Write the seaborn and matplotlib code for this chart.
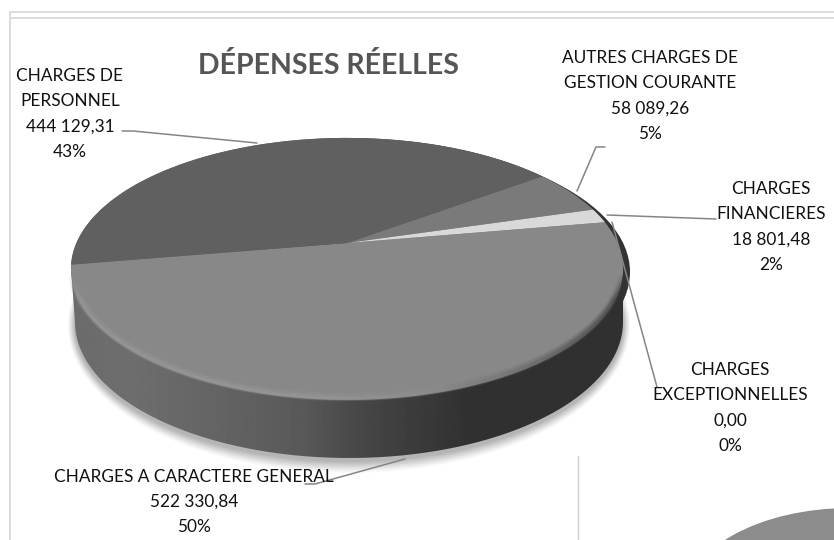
import numpy as np
import matplotlib
matplotlib.use("Agg")
import matplotlib.pyplot as plt
import seaborn as sns
from matplotlib.collections import LineCollection
from matplotlib.patches import Ellipse, PathPatch
from matplotlib.path import Path
from matplotlib.transforms import Transform

categories = ["CHARGES A CARACTERE GENERAL", "CHARGES DE\nPERSONNEL",
              "AUTRES CHARGES DE\nGESTION COURANTE", "CHARGES\nFINANCIERES",
              "CHARGES\nEXCEPTIONNELLES"]
values = [522330.84, 444129.31, 58089.26, 18801.48, 0.00]
percent_labels = ["50%", "43%", "5%", "2%", "0%"]
slice_colors = ["#888888", "#606060", "#7a7a7a", "#d9d9d9", "#b0b0b0"]
label_centers = [(194, 502), (70, 114), (650, 96), (771, 227), (730, 408)]
leaders = [
    [(305, 484), (315, 484), (405, 459)],
    [(122, 131), (133, 131), (257, 143)],
    [(605, 147), (596, 147), (577, 191)],
    [(607, 215), (716, 219)],
    [(612, 222), (657, 387)],
]
title = "DÉPENSES RÉELLES"

sns.set_theme(style="white")
plt.rcParams["font.family"] = ["Lato", "DejaVu Sans"]


class Perspective(Transform):
    """Tilts the unit pie: maps it to an ellipse with the apex above the ellipse's centre."""
    input_dims = output_dims = 2
    is_separable = False
    has_inverse = False

    def __init__(self, cx, cy, a, b, k):
        super().__init__()
        self.cx, self.cy, self.a, self.b, self.k = cx, cy, a, b, k

    def transform_non_affine(self, xy):
        xy = np.asarray(xy, dtype=float)
        w = 1 + self.k * xy[:, 1]
        return np.column_stack([self.cx + self.a * xy[:, 0] / w,
                                self.cy - self.b * xy[:, 1] / w])


H = Perspective(347, 243, 270.6, 125.9, 0.198)

fig = plt.figure(figsize=(8.34, 5.40), dpi=100, facecolor="white")
ax = fig.add_axes([0, 0, 1, 1])

# pie top face, through the library's own pie
wedges, _ = ax.pie(values, colors=sns.color_palette(slice_colors), startangle=9.8,
                   counterclock=False, radius=1, center=(0, 0),
                   wedgeprops=dict(linewidth=0))
for w in wedges:
    w.set_transform(H + ax.transData)
    w.set_clip_on(False)
    w.set_zorder(5)

# soft shadow under the drum
for grow, alpha in zip(np.linspace(12, 1, 10), np.linspace(0.03, 0.10, 10)):
    ax.add_patch(Ellipse((349, 325), 2 * 274 + grow * 1.2, 2 * 136 + 2 * grow,
                         fc="#707070", ec="none", alpha=alpha, zorder=1))

# right bulge under the rim
ax.add_patch(Ellipse((352, 272), 2 * 278, 2 * 131, fc="#333333", ec="none", zorder=2))

# side wall with horizontal gradient
t = np.linspace(0, 2 * np.pi, 721)
circle = np.column_stack([np.cos(t), np.sin(t)])
top_outline = H.transform_non_affine(circle)
upper = top_outline[top_outline[:, 1] < 269]
upper = upper[np.argsort(-upper[:, 0])]
tb = np.linspace(np.pi, 2 * np.pi, 361)
lower = np.column_stack([349 + 274 * np.cos(tb), 322 - 136 * np.sin(tb)])
wall = PathPatch(Path(np.vstack([lower, upper, lower[:1]])), fc="none", ec="none",
                 transform=ax.transData)
ax.add_patch(wall)
stops_x = [70, 130, 220, 300, 360, 420, 470, 630]
stops_v = [0.42, 0.43, 0.39, 0.35, 0.28, 0.23, 0.19, 0.19]
grad = np.interp(np.arange(70, 631), stops_x, stops_v)[None, :]
im = ax.imshow(grad, cmap="gray", vmin=0, vmax=1, extent=(70, 630, 470, 130),
               aspect="auto", zorder=3)
im.set_clip_path(wall)

# soft bevel just inside the front edge of the top face
ring = top_outline[(top_outline[:, 1] > 275)]
ring = ring[np.argsort(ring[:, 0])]
band_x = [70, 300, 420, 500, 570, 625]
band_col = [0.60, 0.60, 0.56, 0.46, 0.34, 0.25]
for lw, alpha, inset in [(6.0, 0.22, 3.0), (4.0, 0.35, 2.5), (2.0, 0.55, 2.0)]:
    pts = ring + [0, -inset]
    segs = np.stack([pts[:-1], pts[1:]], axis=1)
    xs = segs[:, 0, 0]
    shade = np.interp(xs, band_x, band_col)
    taper = np.clip((segs[:, 0, 1] - 275) / 25, 0, 1) * alpha
    ax.add_collection(LineCollection(segs, colors=np.column_stack([shade, shade, shade, taper]),
                                     linewidths=lw, zorder=6, capstyle="butt"))

# frame lines of the screenshot
for xy in ([(10, 12), (834, 12)], [(10, 18), (834, 18)], [(10, 12), (10, 540)]):
    ax.plot(*zip(*xy), color="#dcdcdc", lw=1.4, zorder=0)
ax.plot([578, 578], [456, 540], color="#cfcfcf", lw=1.0, zorder=0)

# corner of the next chart
ax.add_patch(Ellipse((850, 600), 330, 184, fc="#8c8c8c", ec="none", zorder=2))

# leader lines
for pts in leaders:
    ax.plot(*zip(*pts), color="#858585", lw=1.1, zorder=7)

# data labels
for name, val, pct, (x, y) in zip(categories, values, percent_labels, label_centers):
    num = f"{val:,.2f}".replace(",", " ").replace(".", ",")
    ax.text(x, y, f"{name}\n{num}\n{pct}", ha="center", va="center", fontsize=12.4,
            color="#111111", linespacing=1.72, zorder=8)

ax.text(328, 65, title, ha="center", va="center", fontsize=20.5, fontweight="bold",
        color="#555555", zorder=8)

ax.set_aspect("auto")
ax.set_xlim(0, 834)
ax.set_ylim(540, 0)
ax.axis("off")
fig.savefig("out.png", dpi=100)
